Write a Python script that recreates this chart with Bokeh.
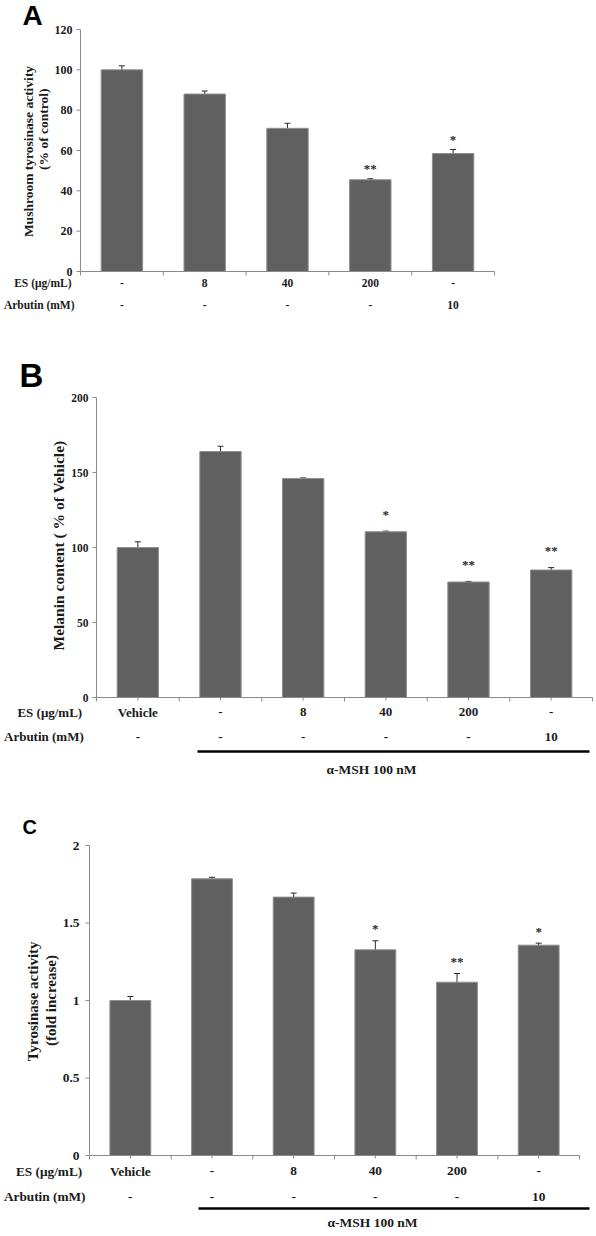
import math
from bokeh.plotting import figure
from bokeh.models import Range1d, ColumnDataSource, Whisker, TeeHead
from bokeh.core.properties import value
from bokeh.embed import file_html
from bokeh.resources import INLINE

# ---------------- data ----------------
# Panel A: mushroom tyrosinase activity (% of control)
a_es = ["-", "8", "40", "200", "-"]
a_arbutin = ["-", "-", "-", "-", "10"]
a_values = [100, 88, 71, 45.5, 58.5]
a_errors = [2, 1.5, 2.5, 0.5, 2]
a_sig = ["", "", "", "**", "*"]
a_yticks = [0, 20, 40, 60, 80, 100, 120]
a_yticklabels = ["0", "20", "40", "60", "80", "100", "120"]
a_ytitle = ["Mushroom tyrosinase activity", "(% of  control)"]

# Panel B: melanin content (% of vehicle)
b_es = ["Vehicle", "-", "8", "40", "200", "-"]
b_arbutin = ["-", "-", "-", "-", "-", "10"]
b_values = [100, 164, 146, 110.5, 77, 85]
b_errors = [3.8, 3.5, 0.4, 0.4, 0.4, 1.6]
b_sig = ["", "", "", "*", "**", "**"]
b_yticks = [0, 50, 100, 150, 200]
b_yticklabels = ["0", "50", "100", "150", "200"]
b_ytitle = ["Melanin content ( % of Vehicle)"]

# Panel C: tyrosinase activity (fold increase)
c_es = ["Vehicle", "-", "8", "40", "200", "-"]
c_arbutin = ["-", "-", "-", "-", "-", "10"]
c_values = [1.0, 1.785, 1.667, 1.327, 1.118, 1.357]
c_errors = [0.026, 0.01, 0.026, 0.058, 0.056, 0.013]
c_sig = ["", "", "", "*", "**", "*"]
c_yticks = [0, 0.5, 1, 1.5, 2]
c_yticklabels = ["0", "0.5", "1", "1.5", "2"]
c_ytitle = ["Tyrosinase  activity", "(fold increase)"]

row_titles = ["ES (\u03bcg/mL)", "Arbutin (mM)"]
msh_text = "\u03b1-MSH 100 nM"

# ---------------- style ----------------
SERIF = "Liberation Serif"
SANS = "Liberation Sans"
TXT = "#1a1a1a"
AXC = "#8a8a8a"
BAR = "#606060"
BAR_EDGE = "#8f8f8f"
W, H = 596, 1232

p = figure(width=W, height=H, x_range=Range1d(0, W), y_range=Range1d(H, 0),
           output_backend="svg", toolbar_location=None,
           x_axis_type=None, y_axis_type=None, min_border=0,
           min_border_left=0, min_border_right=0, min_border_top=0, min_border_bottom=0)
p.outline_line_color = None
p.background_fill_color = "white"
p.border_fill_color = "white"


def txt(p, kw, x, y, t, size, align="center", baseline="middle", font=SERIF,
        angle=0.0, color=TXT, y_offset=0):
    p.text(x=x, y=y, text=t, text_font=value(font), text_font_style="bold",
           text_font_size=size, text_color=color, text_align=align,
           text_baseline=baseline, angle=angle, y_offset=y_offset, **kw)


def draw_panel(name, cfg, es, arbutin, vals, errs, sig, yticks, yticklabels, ymax, ytitle):
    n = len(vals)
    left, right, top, bottom = cfg["frame"]
    xs = (right - left) / n
    ys = (bottom - top) / ymax

    def dx(px):
        return (px - left) / xs

    def dy(py):
        return (bottom - py) / ys

    p.extra_x_ranges = {**p.extra_x_ranges, name: Range1d(dx(0), dx(W))}
    p.extra_y_ranges = {**p.extra_y_ranges, name: Range1d(dy(H), dy(0))}
    kw = dict(x_range_name=name, y_range_name=name)

    centers = [i + 0.5 for i in range(n)]
    src = ColumnDataSource(dict(x=centers, top=vals,
                                upper=[v + e for v, e in zip(vals, errs)],
                                lower=[v - e for v, e in zip(vals, errs)]))
    # bars
    p.vbar(x="x", top="top", bottom=0, width=0.5, source=src, fill_color=BAR,
           line_color=BAR_EDGE, line_width=1, **kw)
    # error bars
    p.add_layout(Whisker(base="x", upper="upper", lower="lower", source=src,
                         dimension="height", line_color="#2a2a2a", line_width=1,
                         upper_head=TeeHead(size=6, line_color="#2a2a2a", line_width=1),
                         lower_head=TeeHead(size=6, line_color="#2a2a2a", line_width=1),
                         **kw))
    # significance marks
    sx = [c for c, s in zip(centers, sig) if s]
    sy = [v + e for v, e, s in zip(vals, errs, sig) if s]
    st = [s for s in sig if s]
    txt(p, kw, sx, sy, st, "13px", color="#2a2a2a", y_offset=cfg["star_off"])

    # axes lines
    p.segment(x0=[0, 0], y0=[0, 0], x1=[0, n], y1=[ymax, 0], line_color=AXC,
              line_width=1, **kw)
    # y ticks and labels
    p.segment(x0=[-4 / xs] * len(yticks), y0=yticks, x1=[0] * len(yticks), y1=yticks,
              line_color=AXC, line_width=1, **kw)
    txt(p, kw, [-cfg["ylab_gap"] / xs] * len(yticks), yticks, yticklabels,
        cfg["ytick_size"], align="right")
    # x ticks: boundaries and (optionally) centres
    bounds = list(range(n + 1))
    p.segment(x0=bounds, y0=[0] * len(bounds), x1=bounds, y1=[-4 / ys] * len(bounds),
              line_color=AXC, line_width=1, **kw)
    if cfg["center_ticks"]:
        p.segment(x0=centers, y0=[0] * n, x1=centers, y1=[-3 / ys] * n,
                  line_color=AXC, line_width=1, **kw)

    # category rows
    es_y, arb_y = cfg["rows_y"]
    txt(p, kw, centers, [dy(es_y)] * n, es, cfg["row_size"])
    txt(p, kw, centers, [dy(arb_y)] * n, arbutin, cfg["row_size"])
    (t1x, t2x) = cfg["row_title_x"]
    txt(p, kw, [dx(t1x), dx(t2x)], [dy(es_y), dy(arb_y)], row_titles,
        cfg["row_size"], align="right")

    # y titles
    for t, (px, py) in zip(ytitle, cfg["ytitle_pos"]):
        txt(p, kw, [dx(px)], [dy(py)], [t], cfg["ytitle_size"], angle=math.pi / 2)

    # panel letter
    lx, ly = cfg["letter_pos"]
    txt(p, kw, [dx(lx)], [dy(ly)], [cfg["letter"]], cfg["letter_size"],
        align="left", baseline="middle", font=SANS, color="black")

    # alpha-MSH bracket
    if cfg.get("line") is not None:
        x0, x1, yl = cfg["line"]
        p.segment(x0=[dx(x0)], y0=[dy(yl)], x1=[dx(x1)], y1=[dy(yl)],
                  line_color="black", line_width=2.5, **kw)
        tx, ty = cfg["msh_pos"]
        txt(p, kw, [dx(tx)], [dy(ty)], [msh_text], "13.5px")


cfgA = dict(frame=(80, 494, 29, 271), star_off=-10, ylab_gap=8, ytick_size="12px",
            center_ticks=False, rows_y=(282, 304), row_size="11.5px",
            row_title_x=(71, 74),
            ytitle_pos=[(28, 151), (42.5, 127)], ytitle_size="13.5px",
            letter="A", letter_pos=(22, 15), letter_size="28px", line=None)
cfgB = dict(frame=(96, 592, 397, 697), star_off=-17, ylab_gap=8, ytick_size="11.5px",
            center_ticks=True, rows_y=(711.7, 736), row_size="13px",
            row_title_x=(81.7, 83.3),
            ytitle_pos=[(58.3, 545)], ytitle_size="15.5px",
            letter="B", letter_pos=(19, 375), letter_size="33px",
            line=(197, 589, 751), msh_pos=(371, 769))
cfgC = dict(frame=(89, 579, 845, 1155), star_off=-12, ylab_gap=10, ytick_size="13.5px",
            center_ticks=True, rows_y=(1170.7, 1196), row_size="13.3px",
            row_title_x=(81.7, 85),
            ytitle_pos=[(32, 999), (50, 1000)], ytitle_size="15px",
            letter="C", letter_pos=(22, 826.5), letter_size="20px",
            line=(198, 589, 1208), msh_pos=(372, 1222))

draw_panel("a", cfgA, a_es, a_arbutin, a_values, a_errors, a_sig, a_yticks,
           a_yticklabels, 120, a_ytitle)
draw_panel("b", cfgB, b_es, b_arbutin, b_values, b_errors, b_sig, b_yticks,
           b_yticklabels, 200, b_ytitle)
draw_panel("c", cfgC, c_es, c_arbutin, c_values, c_errors, c_sig, c_yticks,
           c_yticklabels, 2, c_ytitle)

open("out.html", "w").write(file_html(p, INLINE))
